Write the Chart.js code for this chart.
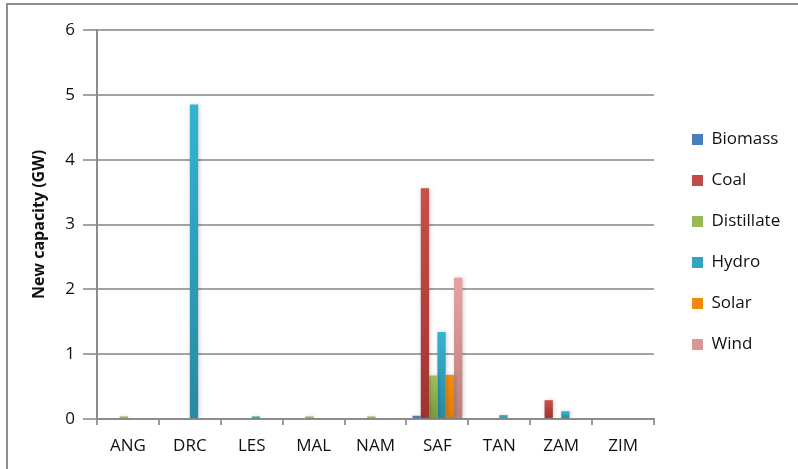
<!DOCTYPE html>
<html>
<head>
<meta charset="utf-8">
<script src="https://cdn.jsdelivr.net/npm/chart.js@4"></script>
<style>
  html, body { margin: 0; padding: 0; background: #fff; }
  #wrap { position: relative; width: 798px; height: 469px; }
  #frame { position: absolute; left: 6px; top: 3px; width: 800px; height: 480px;
           border-left: 2px solid #8f8f8f; border-top: 2px solid #8f8f8f; box-sizing: border-box; }
  canvas { position: absolute; left: 0; top: 0; }
</style>
</head>
<body>
<div id="wrap">
  <div id="frame"></div>
  <canvas id="c" width="798" height="469"></canvas>
</div>
<script>
const categories = ['ANG', 'DRC', 'LES', 'MAL', 'NAM', 'SAF', 'TAN', 'ZAM', 'ZIM'];
const biomass    = [0,    0,    0,    0,    0,    0.05, 0,    0,    0];
const coal       = [0,    0,    0,    0,    0,    3.56, 0,    0.29, 0];
const distillate = [0.04, 0,    0,    0.04, 0.04, 0.67, 0,    0,    0];
const hydro      = [0,    4.85, 0.04, 0,    0,    1.34, 0.06, 0.12, 0];
const solar      = [0,    0,    0,    0,    0,    0.68, 0,    0,    0];
const wind       = [0,    0,    0,    0,    0,    2.18, 0,    0,    0];
const yTicks     = [0, 1, 2, 3, 4, 5, 6];

const FONT = "'Open Sans', 'DejaVu Sans', sans-serif";

function grad(base, top, bottom) {
  return function (ctx) {
    const chart = ctx.chart;
    if (ctx.type !== 'data' || !chart.chartArea || ctx.raw == null) return base;
    const ys = chart.scales.y;
    const yTop = ys.getPixelForValue(ctx.raw);
    const yBot = ys.getPixelForValue(0);
    if (!isFinite(yTop) || !isFinite(yBot) || yBot - yTop < 4) return base;
    const g = chart.ctx.createLinearGradient(0, yTop, 0, yBot);
    g.addColorStop(0, top);
    g.addColorStop(1, bottom);
    return g;
  };
}

const LEGEND_W = 144, LEGEND_DX = 14, LEGEND_DY = -15;
const legendTweak = {
  id: 'legendTweak',
  afterInit(chart) {
    const lg = chart.legend;
    if (!lg) return;
    const fit = lg.fit;
    lg.fit = function () { fit.call(this); this.width = LEGEND_W; };
    const draw = lg.draw;
    lg.draw = function () {
      const l = this.left, t = this.top;
      this.left += LEGEND_DX; this.top += LEGEND_DY;
      draw.apply(this, arguments);
      this.left = l; this.top = t;
    };
  }
};
const barShadow = {
  id: 'barShadow',
  beforeDatasetsDraw(chart) {
    const c = chart.ctx; c.save();
    c.shadowColor = 'rgba(0,0,0,0.2)'; c.shadowBlur = 4; c.shadowOffsetX = 1; c.shadowOffsetY = 0;
  },
  afterDatasetsDraw(chart) { chart.ctx.restore(); }
};

const series = [
  ['Biomass',    biomass,    '#4A7EBB', '#4E86C6', '#3A6499'],
  ['Coal',       coal,       '#BE4B48', '#C6504C', '#9E3330'],
  ['Distillate', distillate, '#98B954', '#A0C15E', '#7A983E'],
  ['Hydro',      hydro,      '#31A6C3', '#34B3D1', '#278AA1'],
  ['Solar',      solar,      '#F08A0C', '#F48E10', '#E27C04'],
  ['Wind',       wind,       '#D99694', '#E6A2A0', '#BB7F7D']
];

new Chart(document.getElementById('c'), {
  type: 'bar',
  data: {
    labels: categories,
    datasets: series.map(s => ({
      label: s[0],
      data: s[1],
      backgroundColor: grad(s[2], s[3], s[4]),
      borderWidth: 0,
      categoryPercentage: 0.806,
      barPercentage: 1.0
    }))
  },
  options: {
    responsive: false,
    animation: false,
    layout: { padding: { left: 0, right: 0, top: 30, bottom: 0 } },
    plugins: {
      tooltip: { enabled: false },
      legend: {
        position: 'right',
        align: 'center',
        labels: {
          boxWidth: 11,
          boxHeight: 11,
          padding: 24,
          color: '#111',
          font: { family: FONT, size: 17 }
        }
      }
    },
    scales: {
      x: {
        offset: true,
        afterFit(scale) { scale.height = 50; },
        grid: { offset: true, drawOnChartArea: false, drawTicks: true, tickLength: 6, color: '#9a9a9a', lineWidth: 2 },
        border: { display: true, color: '#8c8c8c', width: 2 },
        ticks: { color: '#111', padding: 11, font: { family: FONT, size: 17 }, maxRotation: 0 }
      },
      y: {
        min: 0,
        max: 6,
        afterFit(scale) { scale.width = 97; },
        afterBuildTicks(scale) { scale.ticks = yTicks.map(v => ({ value: v })); },
        grid: { color: '#a3a3a3', lineWidth: 2, tickLength: 14, drawTicks: true },
        border: { display: true, color: '#8c8c8c', width: 2 },
        ticks: { color: '#111', padding: 8, font: { family: FONT, size: 17 } },
        title: {
          display: true,
          text: 'New capacity (GW)',
          color: '#111',
          padding: { top: 30, bottom: 0 },
          font: { family: FONT, size: 16, weight: 'bold' }
        }
      }
    }
  },
  plugins: [legendTweak, barShadow]
});
</script>
</body>
</html>
